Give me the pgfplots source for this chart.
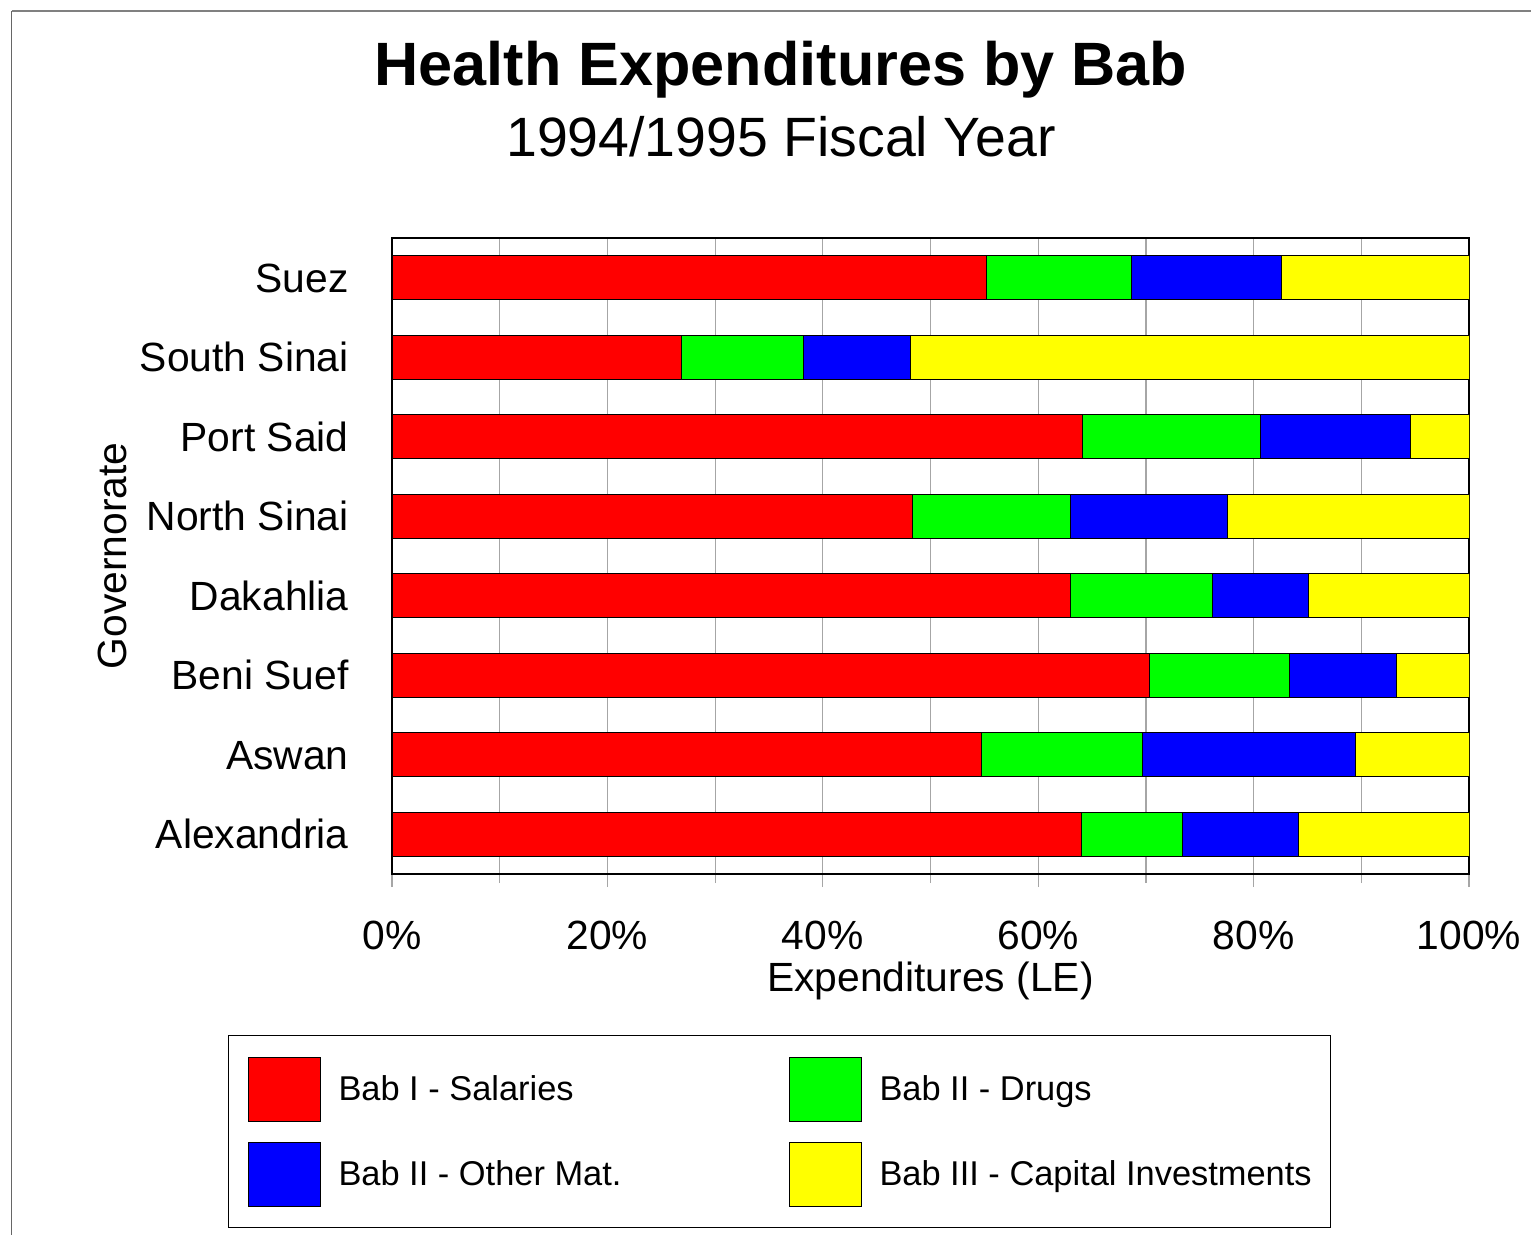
\documentclass[border=0pt]{standalone}
\usepackage{pgfplots}
\usepackage{pgfplotstable}
\pgfplotsset{compat=1.18}
\usepackage{fontspec}
\setmainfont{Liberation Sans}

\pgfplotstableread{
idx sal drug other cap
0 64.0 9.4 10.8 15.8
1 54.7 15.0 19.8 10.5
2 70.3 13.0 10.0 6.7
3 63.0 13.2 8.9 14.9
4 48.3 14.7 14.6 22.4
5 64.1 16.5 14.0 5.4
6 26.9 11.3 9.9 51.9
7 55.2 13.5 13.9 17.4
}\datatable

\definecolor{cgreen}{RGB}{0,255,0}
\definecolor{cyellow}{RGB}{255,255,0}

\pgfplotsset{
  swatch/.style={legend image code/.code={\draw[##1, line width=0.5bp] (0bp,-15.84bp) rectangle (36bp,16.16bp);}},
}

\begin{document}
\begin{tikzpicture}
\useasboundingbox (0,0) rectangle (765.5bp,617.5bp);
\draw[gray!80!black, line width=0.7bp] (5.75bp,0) -- (5.75bp,612bp);
\draw[gray, line width=0.7bp] (5.75bp,612bp) -- (765.5bp,612bp);
\node[anchor=base, font=\bfseries\fontsize{30.6bp}{36bp}\selectfont] at (390.5bp,574.5bp) {Health Expenditures by Bab};
\node[anchor=base, font=\fontsize{27.7bp}{32bp}\selectfont] at (390.5bp,539bp) {1994/1995 Fiscal Year};
\begin{axis}[
  at={(196bp,180.5bp)}, anchor=south west,
  scale only axis, width=538.5bp, height=318bp,
  xbar stacked, bar width=22bp,
  xmin=0, xmax=100, ymin=-0.5, ymax=7.5,
  axis line style={black, line width=0.75bp},
  xtick={0,20,...,100},
  xticklabels={0\%,20\%,40\%,60\%,80\%,100\%},
  minor xtick={10,30,...,90},
  xmajorgrids, xminorgrids,
  major grid style={gray!70, line width=0.6bp},
  minor grid style={gray!70, line width=0.6bp},
  tick align=outside,
  xtick pos=bottom,
  major tick length=6.5bp, minor tick length=4.5bp,
  xtick style={gray!70, line width=0.6bp},
  minor tick style={gray!70, line width=0.6bp},
  ytick={0,...,7},
  yticklabels={Alexandria,Aswan,Beni Suef,Dakahlia,North Sinai,Port Said,South Sinai,Suez},
  ytick style={draw=none},
  ytick pos=left,
  ticklabel style={font=\fontsize{20.4bp}{24bp}\selectfont, inner sep=0pt},
  xticklabel style={anchor=base, yshift=-31bp},
  yticklabel style={anchor=base east, xshift=-15bp, yshift=-7.3bp},
  xlabel={Expenditures (LE)},
  ylabel={Governorate},
  label style={font=\fontsize{20.4bp}{24bp}\selectfont, inner sep=0pt},
  xlabel style={at={(axis description cs:0.5,-0.1855)}, anchor=base},
  ylabel style={at={(axis description cs:-0.2461,0.5)}, anchor=base},
  legend columns=2,
  legend cell align=left,
  legend style={at={(axis description cs:0.3598,-0.2531)}, anchor=north,
    draw=black, line width=0.6bp,
    inner xsep=9.5bp, inner ysep=10.5bp,
    column sep=9bp, row sep=10bp,
    font=\fontsize{17.2bp}{20bp}\selectfont,
    nodes={inner sep=0pt}},
]
\addplot[fill=red, draw=black, line width=0.5bp, swatch] table[x=sal, y=idx] {\datatable};
\addlegendentry{\makebox[216bp][l]{Bab I - Salaries}}
\addplot[fill=cgreen, draw=black, line width=0.5bp, swatch] table[x=drug, y=idx] {\datatable};
\addlegendentry{\makebox[216bp][l]{Bab II - Drugs}}
\addplot[fill=blue, draw=black, line width=0.5bp, swatch] table[x=other, y=idx] {\datatable};
\addlegendentry{\makebox[216bp][l]{Bab II - Other Mat.}}
\addplot[fill=cyellow, draw=black, line width=0.5bp, swatch] table[x=cap, y=idx] {\datatable};
\addlegendentry{\makebox[216bp][l]{Bab III - Capital Investments}}
\end{axis}
\end{tikzpicture}
\end{document}
